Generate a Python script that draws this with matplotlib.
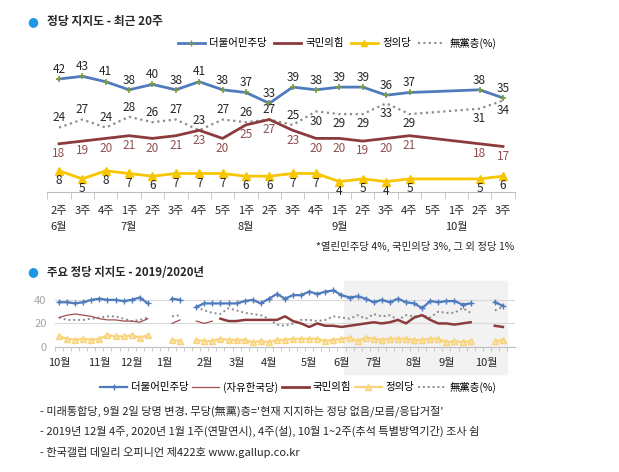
import numpy as np
import matplotlib.pyplot as plt
from matplotlib.lines import Line2D

plt.rcParams['font.family'] = ['Noto Sans CJK KR', 'DejaVu Sans']

# ---------------- DATA: last 20 weeks ----------------
week_labels = ["2주", "3주", "4주", "1주", "2주", "3주", "4주", "5주", "1주", "2주",
               "3주", "4주", "1주", "2주", "3주", "4주", "5주", "1주", "2주", "3주"]
month_pos = [0, 3, 8, 12, 17]
month_names = ["6월", "7월", "8월", "9월", "10월"]
dp = [42, 43, 41, 38, 40, 38, 41, 38, 37, 33, 39, 38, 39, 39, 36, 37, None, None, 38, 35]
ppp = [18, 19, 20, 21, 20, 21, 23, 20, 25, 27, 23, 20, 20, 19, 20, 21, None, None, 18, 17]
jp = [8, 5, 8, 7, 6, 7, 7, 7, 6, 6, 7, 7, 4, 5, 4, 5, None, None, 5, 6]
nop = [24, 27, 24, 28, 26, 27, 23, 27, 26, 27, 25, 30, 29, 29, 33, 29, None, None, 31, 34]

# ---------------- DATA: 2019/2020 weekly (weeks before the last 20) ----------------
dp_early = [38, 38, 37, 38, 40, 41, 40, 40, 39, 40, 42, 37, None, None, 41, 40, None,
            34, 37, 37, 37, 37, 37, 39, 40, 37, 41, 45, 41, 44, 44, 47, 45, 47, 48, 44]
lkp_early = [25, 27, 28, 27, 26, 24, 23, 23, 22, 22, 21, 24, None, None, 20, 23, None,
             22, 20, 22]
ppp_early = [24, 22, 22, 23, 23, 23, 23, 23, 26, 22, 20, 17, 20, 18, 18, 17]
jp_early = [9, 7, 6, 7, 6, 7, 10, 9, 9, 10, 8, 10, None, None, 6, 5, None,
            6, 5, 5, 7, 6, 6, 6, 4, 5, 4, 6, 6, 7, 7, 7, 7, 5, 6, 7]
nop_early = [25, 23, 23, 23, 24, 25, 26, 26, 24, 22, 23, 25, None, None, 26, 27, None,
             34, 31, 29, 28, 33, 31, 29, 28, 27, 24, 19, 18, 20, 23, 23, 22, 23, 26, 25]
month_pos_b = [0, 5, 9, 13, 18, 22, 26, 31, 35, 39, 44, 48, 53]
month_names_b = ["10월", "11월", "12월", "1월", "2월", "3월", "4월", "5월",
                 "6월", "7월", "8월", "9월", "10월"]

BLUE = "#4F7BBE"
RED = "#8C3B3D"
YEL = "#F8C600"
YEL2 = "#F9D37A"
GRAY = "#8C8C8C"
LBL_RED = "#8E4F50"
TXT = "#262626"

fig = plt.figure(figsize=(6.19, 4.72), dpi=100)

# ---------------- 1. TOP CHART ----------------
fig.text(0.053, 1 - 22 / 472, "●", color="#1E96E6", fontsize=9, va="center", ha="center",
         family="DejaVu Sans")
fig.text(0.076, 1 - 22 / 472, "정당 지지도 - 최근 20주", fontsize=8.5, fontweight="bold",
         va="center", color=TXT)

ax = fig.add_axes([47.3 / 619, 279.6 / 472, 467.4 / 619, 129.6 / 472])
x = np.arange(len(week_labels))


def valid(vals):
    idx = [i for i, v in enumerate(vals) if v is not None]
    return idx, [vals[i] for i in idx]


xi, yv = valid(nop)
ax.plot(xi, yv, color=GRAY, lw=1.6, ls=(0, (1, 1.6)))
xi, yv = valid(ppp)
ax.plot(xi, yv, color=RED, lw=2)
xi, yv = valid(jp)
ax.plot(xi, yv, color=YEL, lw=2, marker="^", ms=6, mec=YEL)
xi, yv = valid(dp)
ax.plot(xi, yv, color=BLUE, lw=2, marker="+", ms=5, mec="#7A9A42", mew=1.2)

for i in range(len(x)):
    if dp[i] is not None:
        ax.annotate(str(dp[i]), (i, dp[i]), xytext=(0, 7), textcoords="offset points",
                    ha="center", va="center", fontsize=8.5, color=TXT)
    if ppp[i] is not None:
        ax.annotate(str(ppp[i]), (i, ppp[i]), xytext=(0, -7), textcoords="offset points",
                    ha="center", va="center", fontsize=8.5, color=LBL_RED)
    if jp[i] is not None:
        ax.annotate(str(jp[i]), (i, jp[i]), xytext=(0, -7), textcoords="offset points",
                    ha="center", va="center", fontsize=8.5, color=TXT)
    if nop[i] is not None:
        off = 7 if i <= 10 else -7
        ax.annotate(str(nop[i]), (i, nop[i]), xytext=(0, off), textcoords="offset points",
                    ha="center", va="center", fontsize=8.5, color=TXT)

ax.set_xlim(-0.5, 19.5)
ax.set_ylim(0, 48)
for s in ["top", "right", "left"]:
    ax.spines[s].set_visible(False)
ax.spines["bottom"].set_color("#BFBFBF")
ax.set_yticks([])
ax.set_xticks(x)
ax.set_xticklabels(week_labels, fontsize=8, color=TXT)
ax.tick_params(axis="x", which="major", length=0, pad=10)
ax.set_xticks(np.arange(-0.5, 20, 1), minor=True)
ax.tick_params(axis="x", which="minor", length=5, color="#BFBFBF")
for p, m in zip(month_pos, month_names):
    ax.text(p, -0.27, m, transform=ax.get_xaxis_transform(), ha="center", va="center",
            fontsize=8, color=TXT)
ax.text(1.0, -0.42, "*열린민주당 4%, 국민의당 3%, 그 외 정당 1%", transform=ax.transAxes,
        ha="right", va="center", fontsize=7.5, color=TXT)

h_top = [Line2D([], [], color=BLUE, lw=2, marker="+", ms=5, mec="#7A9A42"),
         Line2D([], [], color=RED, lw=2),
         Line2D([], [], color=YEL, lw=2, marker="^", ms=5),
         Line2D([], [], color=GRAY, lw=1.5, ls=(0, (1, 1.6)))]
fig.legend(h_top, ["더불어민주당", "국민의힘", "정의당", "無黨층(%)"], ncol=4, frameon=False,
           loc="center", bbox_to_anchor=(337 / 619, 1 - 43 / 472), fontsize=7.5,
           handlelength=2.6, columnspacing=0.7, handletextpad=0.4)

# ---------------- 2. BOTTOM CHART ----------------
fig.text(0.053, 1 - 272 / 472, "●", color="#1E96E6", fontsize=9, va="center", ha="center",
         family="DejaVu Sans")
fig.text(0.076, 1 - 272 / 472, "주요 정당 지지도 - 2019/2020년", fontsize=8.2, fontweight="bold",
         va="center", color=TXT)

dp_all = np.array(dp_early + dp, dtype=float)
jp_all = np.array(jp_early + jp, dtype=float)
nop_all = np.array(nop_early + nop, dtype=float)
lkp_all = np.array(lkp_early, dtype=float)
ppp_all = np.array(ppp_early + ppp, dtype=float)
wk = np.arange(len(dp_all))

bx = fig.add_axes([55 / 619, 125 / 472, 460 / 619, 66 / 472])
bx.axvspan(35.35, 55.5, ymin=-0.41, ymax=1.0, color="#F2F2F2", zorder=0, clip_on=False)
bx.plot(wk, nop_all, color=GRAY, lw=1.4, ls=(0, (1, 1.5)))
bx.plot(wk[:len(lkp_all)], lkp_all, color="#A0504D", lw=0.9)
bx.plot(wk[20:], ppp_all, color=RED, lw=1.8)
bx.plot(wk, jp_all, color=YEL2, lw=1.6, marker="^", ms=4, mfc="#FBE3A6", mec=YEL2)
bx.plot(wk, dp_all, color=BLUE, lw=1.6, marker="+", ms=5, mec=BLUE)

bx.set_xlim(-0.37, 56.5)
bx.set_ylim(0, 56)
bx.set_yticks([0, 20, 40])
bx.set_yticklabels(["0", "20", "40"], fontsize=8, color="#A6A6A6")
bx.tick_params(axis="y", length=0, pad=6)
bx.grid(axis="y", color="#D9D9D9", lw=0.8)
bx.set_axisbelow(True)
for s in ["top", "right", "left"]:
    bx.spines[s].set_visible(False)
bx.spines["bottom"].set_color("#BFBFBF")
bx.set_xticks(month_pos_b)
bx.set_xticklabels(month_names_b, fontsize=8, color=TXT)
bx.tick_params(axis="x", which="major", length=0, pad=8)
bx.set_xticks(np.arange(-0.5, 56, 1), minor=True)
bx.tick_params(axis="x", which="minor", length=3, color="#BFBFBF")

h_bot = [Line2D([], [], color=BLUE, lw=1.6, marker="+", ms=5),
         Line2D([], [], color="#A0504D", lw=0.9),
         Line2D([], [], color=RED, lw=2),
         Line2D([], [], color=YEL2, lw=1.6, marker="^", ms=4, mfc="#FBE3A6"),
         Line2D([], [], color=GRAY, lw=1.4, ls=(0, (1, 1.5)))]
fig.legend(h_bot, ["더불어민주당", "(자유한국당)", "국민의힘", "정의당", "無黨층(%)"], ncol=5,
           frameon=False, loc="center", bbox_to_anchor=(298 / 619, 1 - 387 / 472),
           fontsize=7.5, handlelength=2.6, columnspacing=0.3, handletextpad=0.4)

# ---------------- NOTES ----------------
notes = ["- 미래통합당, 9월 2일 당명 변경. 무당(無黨)층='현재 지지하는 정당 없음/모름/응답거절'",
         "- 2019년 12월 4주, 2020년 1월 1주(연말연시), 4주(설), 10월 1~2주(추석 특별방역기간) 조사 쉼",
         "- 한국갤럽 데일리 오피니언 제422호 www.gallup.co.kr"]
for yy, t in zip([411, 431, 452], notes):
    fig.text(40 / 619, 1 - yy / 472, t, fontsize=8, va="center", color=TXT)

fig.savefig("out.png", dpi=100)
